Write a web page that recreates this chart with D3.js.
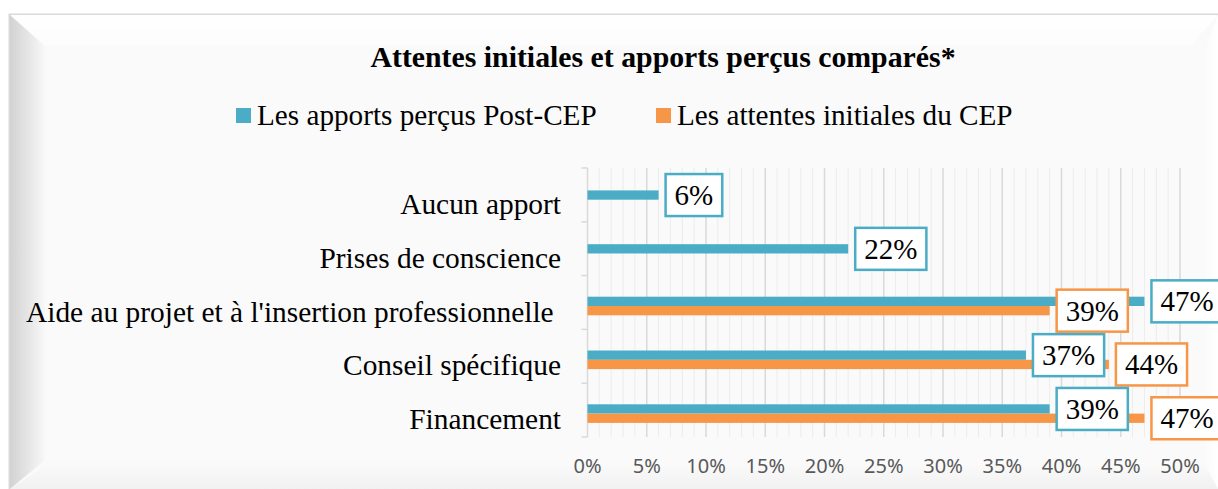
<!DOCTYPE html>
<html lang="fr">
<head>
  <meta charset="UTF-8">
  <title>Attentes initiales et apports perçus comparés</title>
  <script src="https://d3js.org/d3.v7.min.js"></script>
  <style>
    body { margin: 0; background: #fff; }
    svg { display: block; }
    .serif { font-family: "Liberation Serif", "Times New Roman", serif; fill: #000; }
    .tick-label { font-family: "Noto Sans", sans-serif; font-size: 20px; fill: #595959; }
  </style>
</head>
<body>
  <svg id="chart" width="1218" height="489"></svg>

  <script>
    // chart data
    const categories = ["Aucun apport", "Prises de conscience", "Aide au projet et à l'insertion professionnelle ", "Conseil spécifique", "Financement"];
    const seriesNames = ["Les apports perçus Post-CEP", "Les attentes initiales du CEP"];
    const apports = [0.06, 0.22, 0.47, 0.37, 0.39];
    const attentes = [null, null, 0.39, 0.44, 0.47];
    const xTicks = [0, 0.05, 0.10, 0.15, 0.20, 0.25, 0.30, 0.35, 0.40, 0.45, 0.50];
    const colors = ["#4bacc6", "#f79646"];

    const svg = d3.select("#chart");
    const W = 1218, H = 489;

    // --- frame with bevel ---
    const defs = svg.append("defs");
    function grad(id, x1, y1, x2, y2, c1, c2) {
      const g = defs.append("linearGradient").attr("id", id)
        .attr("x1", x1).attr("y1", y1).attr("x2", x2).attr("y2", y2);
      g.append("stop").attr("offset", "0%").attr("stop-color", c1);
      g.append("stop").attr("offset", "100%").attr("stop-color", c2);
    }
    grad("gLeft", 0, 0, 1, 0, "#d2d2d2", "#f8f8f8");
    grad("gTop", 0, 0, 0, 1, "#ffffff", "#fcfcfc");
    grad("gRight", 0, 0, 1, 0, "#fbfbfb", "#ffffff");
    grad("gBottom", 0, 0, 0, 1, "#f9f9f9", "#f1f1f1");

    svg.append("rect").attr("x", 9.5).attr("y", 14.5).attr("width", W).attr("height", H)
      .attr("fill", "#fafafa").attr("stroke", "#d9d9d9").attr("stroke-width", 2);
    svg.append("polygon").attr("points", "10,15 1218,15 1190,46 45,46").attr("fill", "url(#gTop)");
    svg.append("polygon").attr("points", "10,15 45,46 45,460 10,489").attr("fill", "url(#gLeft)");
    svg.append("polygon").attr("points", "1218,15 1206,46 1206,468 1218,489").attr("fill", "url(#gRight)");
    svg.append("polygon").attr("points", "10,489 45,466 1206,466 1218,489").attr("fill", "url(#gBottom)");

    // --- title ---
    svg.append("text").attr("class", "serif")
      .attr("x", 663).attr("y", 67)
      .attr("text-anchor", "middle")
      .style("font-size", "29.8px").style("font-weight", "bold")
      .text("Attentes initiales et apports perçus comparés*");

    // --- legend ---
    const legendX = [236, 656];
    seriesNames.forEach((name, i) => {
      const g = svg.append("g").attr("transform", `translate(${legendX[i]},108)`);
      g.append("rect").attr("width", 15).attr("height", 15).attr("fill", colors[i]);
      g.append("text").attr("class", "serif").attr("x", 21).attr("y", 17)
        .style("font-size", "29.2px").text(name);
    });

    // --- scales ---
    const x = d3.scaleLinear().domain([0, 0.5]).range([587.5, 1180]);
    const y = d3.scaleBand().domain(categories).range([168, 437]).padding(0);

    // gridlines (minor every 1 %, major every 5 %)
    const minor = d3.range(0, 51).map(d => d / 100).filter(d => Math.round(d * 100) % 5 !== 0);
    svg.append("g").selectAll("line").data(minor).join("line")
      .attr("x1", d => x(d)).attr("x2", d => x(d))
      .attr("y1", 168).attr("y2", 437)
      .attr("stroke", "#ececec").attr("stroke-width", 1);
    svg.append("g").selectAll("line").data(xTicks.slice(1)).join("line")
      .attr("x1", d => x(d)).attr("x2", d => x(d))
      .attr("y1", 168).attr("y2", 437)
      .attr("stroke", "#d9d9d9").attr("stroke-width", 1.5);

    // category axis
    svg.append("line").attr("x1", x(0)).attr("x2", x(0)).attr("y1", 168).attr("y2", 437)
      .attr("stroke", "#d9d9d9").attr("stroke-width", 1.5);
    const bounds = categories.map(c => y(c)).concat([437]);
    svg.append("g").selectAll("line").data(bounds).join("line")
      .attr("x1", x(0) - 6).attr("x2", x(0)).attr("y1", d => d).attr("y2", d => d)
      .attr("stroke", "#d9d9d9").attr("stroke-width", 1.5);

    svg.append("g").selectAll("text").data(categories).join("text")
      .attr("class", "serif")
      .attr("x", 561)
      .attr("y", d => y(d) + y.bandwidth() / 2 + 19)
      .attr("text-anchor", "end")
      .attr("xml:space", "preserve")
      .style("white-space", "pre")
      .style("font-size", "29.4px")
      .text(d => d);

    // value axis labels
    svg.append("g").selectAll("text").data(xTicks).join("text")
      .attr("class", "tick-label")
      .attr("x", d => x(d)).attr("y", 473)
      .attr("text-anchor", "middle")
      .text(d => d3.format(".0%")(d));

    // --- bars ---
    const barH = 9.3;
    const rows = [];
    categories.forEach((c, i) => {
      const cy = y(c) + y.bandwidth() / 2;
      const pair = attentes[i] != null;
      rows.push({ cat: c, s: 0, v: apports[i], top: pair ? cy - 5.8 : cy - 4.5 });
      if (pair) rows.push({ cat: c, s: 1, v: attentes[i], top: cy - 5.8 + barH });
    });

    svg.append("g").selectAll("rect").data(rows).join("rect")
      .attr("x", x(0)).attr("y", d => d.top)
      .attr("width", d => x(d.v) - x(0)).attr("height", barH)
      .attr("fill", d => colors[d.s]);

    // --- data labels in boxes ---
    const labels = svg.append("g");
    rows.forEach(d => {
      const g = labels.append("g");
      const cy = d.top + barH / 2;
      const t = g.append("text").attr("class", "serif")
        .attr("x", 0).attr("y", cy + 10)
        .attr("text-anchor", "middle")
        .style("font-size", "29px")
        .text(d3.format(".0%")(d.v));
      const tw = t.node().getComputedTextLength();
      const bw = tw + 18, bh = 42;
      const bx = x(d.v) + 7;
      t.attr("x", bx + bw / 2);
      g.insert("rect", "text")
        .attr("x", bx).attr("y", cy - bh / 2)
        .attr("width", bw).attr("height", bh)
        .attr("fill", "#fff")
        .attr("stroke", colors[d.s]).attr("stroke-width", 2.5);
    });
  </script>
</body>
</html>
